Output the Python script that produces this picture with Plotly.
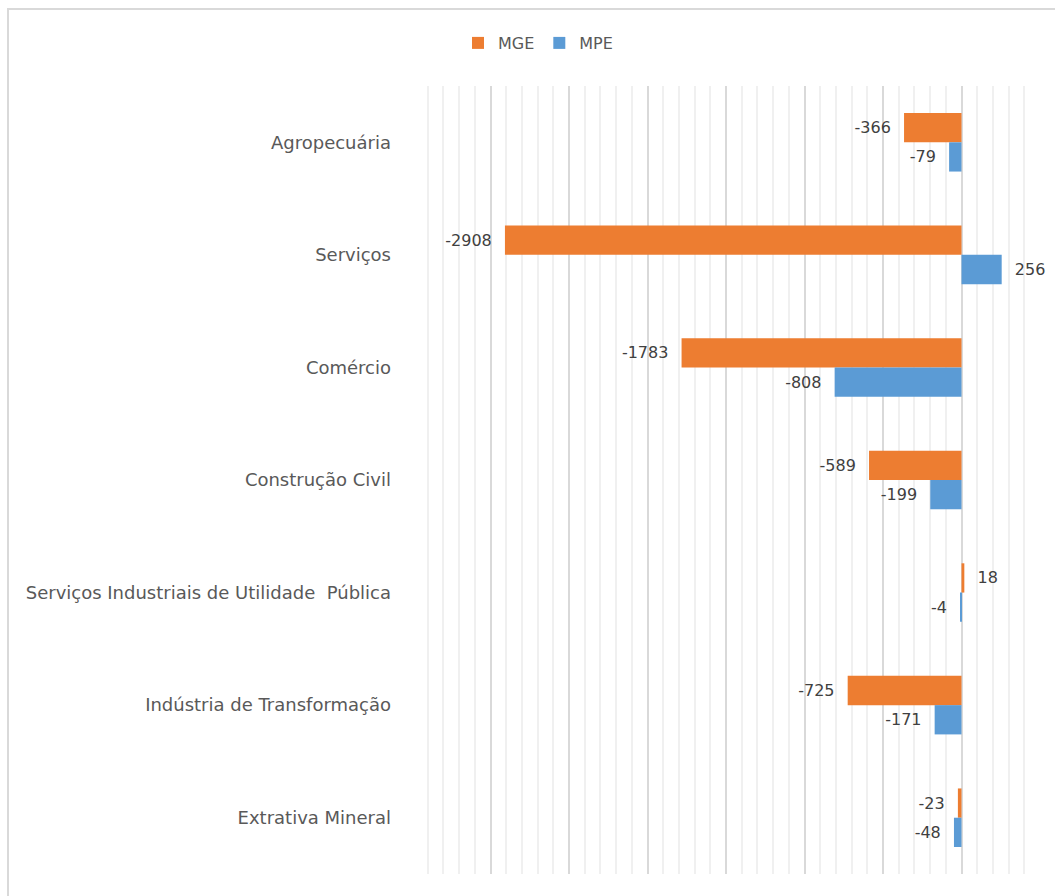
import plotly.graph_objects as go

categories = [
    "Agropecuária",
    "Serviços",
    "Comércio",
    "Construção Civil",
    "Serviços Industriais de Utilidade\u00a0 Pública",
    "Indústria de Transformação",
    "Extrativa Mineral",
]
mge = [-366, -2908, -1783, -589, 18, -725, -23]
mpe = [-79, 256, -808, -199, -4, -171, -48]

ORANGE = "#ED7D31"
BLUE = "#5B9BD5"
FONT = "DejaVu Sans"

W, H = 1055, 896
L, R, T, B = 412, 15, 86, 22
PW, PH = W - L - R, H - T - B


def labels(vals):
    pad = "\u00a0\u00a0"
    return [f"{v}{pad}" if v < 0 else f"{pad}{v}" for v in vals]


fig = go.Figure()
for name, vals, col in (("MGE", mge, ORANGE), ("MPE", mpe, BLUE)):
    fig.add_trace(go.Bar(
        y=categories, x=vals, name=name, orientation="h",
        marker=dict(color=col, line=dict(width=0)),
        text=labels(vals), textposition="outside", cliponaxis=False,
        constraintext="none",
        textfont=dict(family=FONT, size=16, color="#404040"),
    ))

fig.update_layout(
    width=W, height=H,
    barmode="group", bargap=0.48, bargroupgap=0,
    paper_bgcolor="white", plot_bgcolor="white",
    margin=dict(l=L, r=R, t=T, b=B, autoexpand=False),
    font=dict(family=FONT, color="#595959"),
    showlegend=True,
    legend=dict(
        orientation="h", x=538 / W, xref="container", xanchor="center",
        y=1 - 43 / H, yref="container", yanchor="middle",
        font=dict(family=FONT, size=16, color="#595959"),
        itemwidth=30, tracegroupgap=0,
    ),
    xaxis=dict(
        range=[-3500, 500], dtick=500, tick0=0,
        showgrid=True, gridcolor="#D9D9D9", gridwidth=2,
        zeroline=False, showticklabels=False, ticks="",
        minor=dict(dtick=100, showgrid=True, gridcolor="#F0F0F0", gridwidth=2),
        fixedrange=True,
    ),
    yaxis=dict(
        autorange="reversed", showgrid=False, zeroline=False,
        ticks="", ticklabelstandoff=20, automargin=False,
        tickfont=dict(family=FONT, size=18, color="#595959"),
        showline=False, fixedrange=True,
    ),
    shapes=[dict(
        type="rect", xref="paper", yref="paper",
        x0=-(L - 8) / PW, x1=1 + (W + 10 - (W - R)) / PW,
        y0=-(H + 10 - (H - B)) / PH, y1=1 + (T - 9) / PH,
        line=dict(color="#D9D9D9", width=2), layer="below",
    )],
)

fig.write_html(
    "out.html",
    config={"displayModeBar": False},
    post_script="document.body.style.margin='0';document.body.style.overflow='hidden';",
)
